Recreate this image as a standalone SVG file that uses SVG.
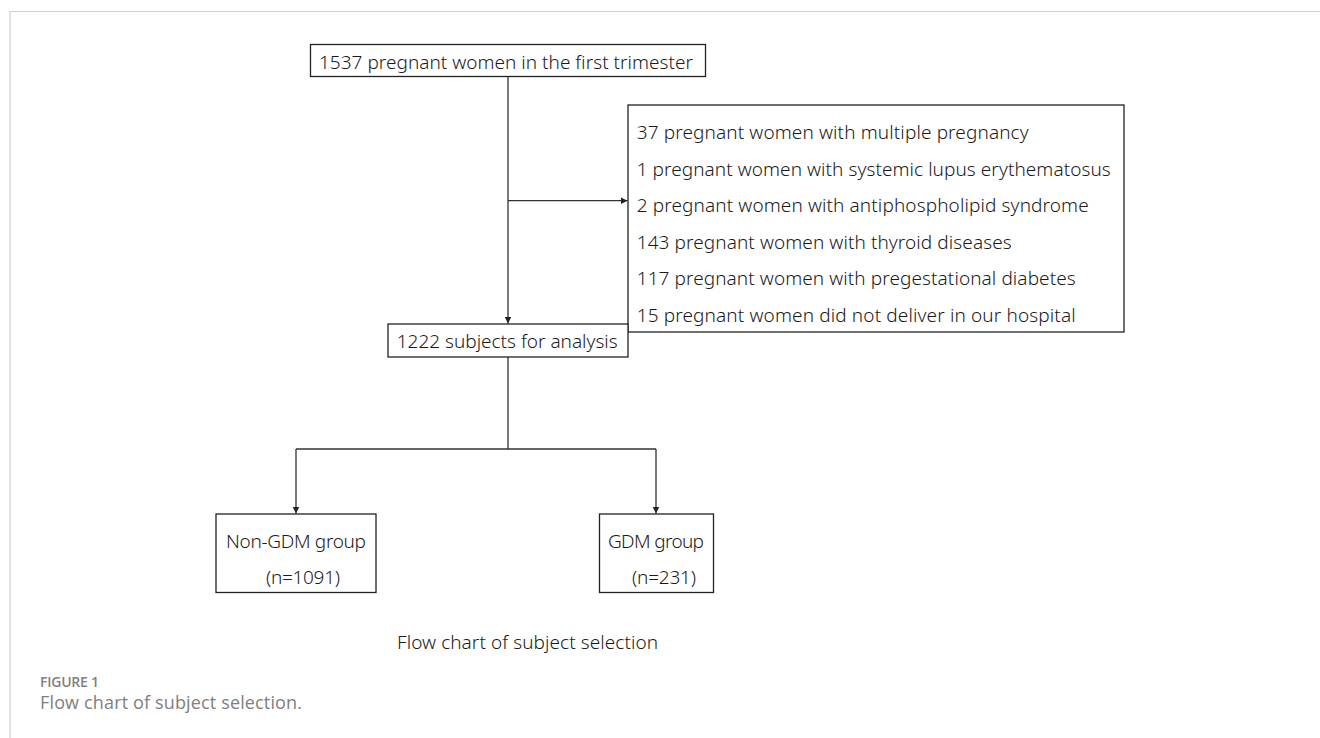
<svg xmlns="http://www.w3.org/2000/svg" width="1320" height="738" viewBox="0 0 1320 738">
<defs>
<style>
.box{fill:#fff;stroke:#222;stroke-width:1.3}
.t{font-family:"Noto Sans","Liberation Sans",sans-serif;font-size:19px;font-weight:300;fill:#1a1a1a}
.ln{fill:none;stroke:#333;stroke-width:1.3}
.cap{font-family:"Open Sans","Noto Sans",sans-serif;fill:#808080}
</style>
<marker id="ah" viewBox="0 0 10 10" refX="10" refY="5" markerWidth="7" markerHeight="7" markerUnits="userSpaceOnUse" orient="auto">
<path d="M0,0 L10,5 L0,10 z" fill="#222"/>
</marker>
</defs>
<rect width="1320" height="738" fill="#fff"/>
<path d="M10,738 V11.5 H1320" fill="none" stroke="#cfcfcf" stroke-width="1.2"/>
<g id="connectors">
<path class="ln" d="M508,76.5 V323.5" marker-end="url(#ah)"/>
<path class="ln" d="M508,200.7 H627.5" marker-end="url(#ah)"/>
<path class="ln" d="M508,357 V449 M296,449 H656"/>
<path class="ln" d="M296,449 V513.5" marker-end="url(#ah)"/>
<path class="ln" d="M656,449 V513.5" marker-end="url(#ah)"/>
</g>
<g id="start">
<rect class="box" x="310.5" y="44.5" width="395" height="32"/>
<text class="t" x="319" y="68.5" textLength="374">1537 pregnant women in the first trimester</text>
</g>
<g id="excluded">
<rect class="box" x="628" y="105" width="496" height="227"/>
<text class="t" x="636.7" y="139" textLength="392">37 pregnant women with multiple pregnancy</text>
<text class="t" x="636.7" y="175.5" textLength="474">1 pregnant women with systemic lupus erythematosus</text>
<text class="t" x="636.7" y="212" textLength="452">2 pregnant women with antiphospholipid syndrome</text>
<text class="t" x="636.7" y="248.5" textLength="375">143 pregnant women with thyroid diseases</text>
<text class="t" x="636.7" y="285" textLength="439">117 pregnant women with pregestational diabetes</text>
<text class="t" x="636.7" y="321.5" textLength="439">15 pregnant women did not deliver in our hospital</text>
</g>
<g id="analysis">
<rect class="box" x="388" y="324" width="240" height="33"/>
<text class="t" x="396.7" y="348.3" textLength="221">1222 subjects for analysis</text>
</g>
<g id="nongdm">
<rect class="box" x="216" y="514" width="160" height="78.5"/>
<text class="t" x="226" y="548.3" textLength="140">Non-GDM group</text>
<text class="t" x="266" y="584" textLength="74">(n=1091)</text>
</g>
<g id="gdm">
<rect class="box" x="599.5" y="514" width="114" height="78.5"/>
<text class="t" x="608" y="548.3" textLength="96">GDM group</text>
<text class="t" x="632" y="584" textLength="64">(n=231)</text>
</g>
<text class="t" x="397" y="649" font-size="18" textLength="261">Flow chart of subject selection</text>
<text class="cap" x="40" y="687" font-size="14" font-weight="600" textLength="59">FIGURE 1</text>
<text class="cap" x="40" y="709" font-size="18" textLength="262">Flow chart of subject selection.</text>
</svg>
